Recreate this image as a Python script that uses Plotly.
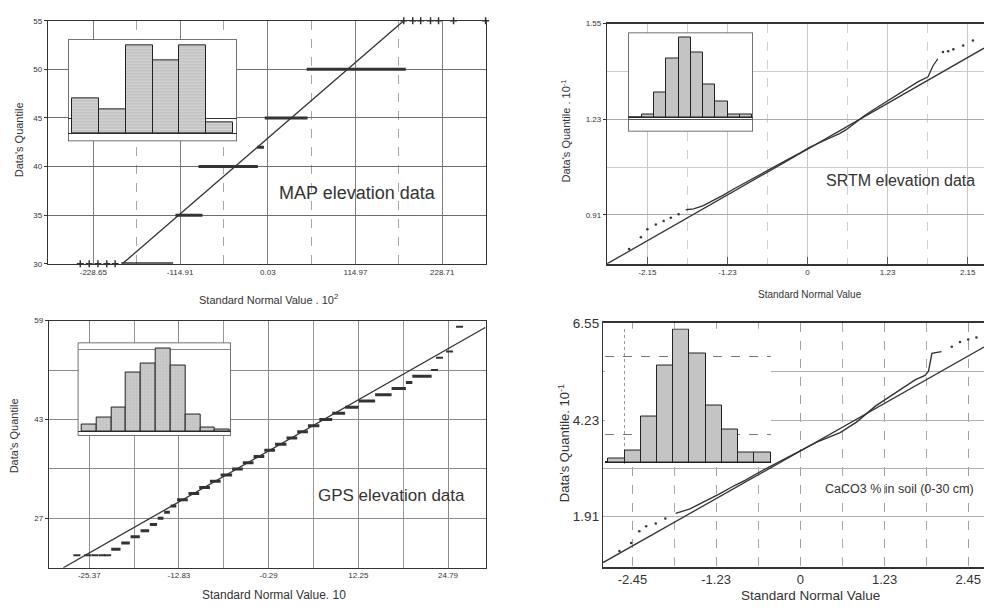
import plotly.graph_objects as go

W, H = 984, 608

# ---------------- MAP elevation data ----------------
MAP_LEVELS = [30, 35, 40, 42, 45, 50]
MAP_BAND_START = [-192.0, -121.0, -90.8, -14.0, -4.0, 51.0]
MAP_BAND_END = [-124.0, -85.6, -13.0, -5.0, 52.2, 180.9]
MAP_SPARSE_X = [-245.7, -234.0, -222.5, -211.0, -200.0, 178.2, 190.0, 200.4, 213.3, 223.8, 243.5, 285.5]
MAP_SPARSE_Y = [30, 30, 30, 30, 30, 55, 55, 55, 55, 55, 55, 55]
MAP_REF_X = [-190.6, 178.2]
MAP_REF_Y = [30, 55]
MAP_HIST = [36, 25, 90, 75, 90, 11]
MAP_XTICKS = [-228.65, -114.91, 0.03, 114.97, 228.71]
MAP_XTICK_TEXT = ["-228.65", "-114.91", "0.03", "114.97", "228.71"]
MAP_YTICKS = [30, 35, 40, 45, 50, 55]

# ---------------- SRTM elevation data ----------------
SRTM_LO_X = [-2.74, -2.56, -2.46, -2.33, -2.21, -2.10, -1.98]
SRTM_LO_Y = [0.796, 0.835, 0.862, 0.878, 0.889, 0.900, 0.912]
SRTM_MID_X = [-1.87, -1.75, -1.61, -1.45, -1.30, -1.12, -0.94, -0.80, -0.64, -0.45, -0.28, -0.12,
              0.03, 0.25, 0.49, 0.60, 0.70, 0.85, 1.00, 1.13, 1.26, 1.42, 1.57, 1.70, 1.85, 1.93, 2.00]
SRTM_MID_Y = [0.927, 0.930, 0.940, 0.957, 0.975, 0.998, 1.020, 1.036, 1.056, 1.078, 1.098, 1.117,
              1.136, 1.158, 1.182, 1.196, 1.214, 1.238, 1.260, 1.278, 1.296, 1.318, 1.340, 1.356, 1.372, 1.410, 1.432]
SRTM_HI_X = [2.08, 2.16, 2.24, 2.39, 2.54]
SRTM_HI_Y = [1.455, 1.458, 1.464, 1.477, 1.494]
SRTM_REF_X = [-3.08, 2.71]
SRTM_REF_Y = [0.746, 1.468]
SRTM_HIST = [0, 3.5, 25, 60, 82, 66, 34, 16, 3, 3]
SRTM_XTICKS = [-2.46, -1.23, 0, 1.23, 2.46]
SRTM_XTICK_TEXT = ["-2.15", "-1.23", "0", "1.23", "2.15"]
SRTM_YTICKS = [0.91, 1.23, 1.55]

# ---------------- GPS elevation data ----------------
GPS_LEVELS = [22, 23, 24, 25, 26, 27, 28, 29, 30, 31, 32, 33, 34, 35, 36, 37, 38, 39, 40,
              41, 42, 43, 44, 45, 46, 47, 48, 49, 50]
GPS_STEP_START = [-22.3, -20.9, -19.6, -18.2, -16.9, -15.8, -14.9, -14.0, -13.1, -11.5, -10.0, -8.5,
                  -7.0, -5.4, -3.9, -2.4, -0.9, 0.6, 2.2, 3.7, 5.2, 6.8, 8.6, 10.4, 12.3, 14.6,
                  16.9, 18.9, 19.8]
GPS_STEP_END = [-21.0, -19.7, -18.3, -17.0, -15.9, -15.0, -14.1, -13.2, -11.6, -10.0, -8.5, -7.0,
                -5.4, -3.9, -2.4, -0.9, 0.6, 2.2, 3.7, 5.2, 6.8, 8.6, 10.4, 12.3, 14.6, 16.9,
                18.9, 19.8, 22.5]
GPS_PT_X = [-27.1, -25.6, -24.6, -23.6, -22.8, 22.9, 23.6, 25.0, 26.4]
GPS_PT_Y = [21, 21, 21, 21, 21, 51, 53, 54, 58]
GPS_REF_X = [-29.0, 30.0]
GPS_REF_Y = [19.0, 57.9]
GPS_HIST = [7.7, 14, 25, 60, 70, 85, 67.7, 17.7, 4, 2.3]
GPS_XTICKS = [-25.37, -12.83, -0.29, 12.25, 24.79]
GPS_XTICK_TEXT = ["-25.37", "-12.83", "-0.29", "12.25", "24.79"]
GPS_YTICKS = [27, 43, 59]

# ---------------- CaCO3 % in soil ----------------
CAC_LO_X = [-2.64, -2.47, -2.35, -2.25, -2.11, -1.97]
CAC_LO_Y = [1.09, 1.28, 1.56, 1.68, 1.75, 1.87]
CAC_MID_X = [-1.82, -1.73, -1.61, -1.49, -1.35, -1.20, -0.96, -0.80, -0.62, -0.34, -0.05, 0.24,
             0.58, 0.82, 1.10, 1.39, 1.68, 1.82, 1.87, 1.92, 2.06]
CAC_MID_Y = [1.99, 2.03, 2.10, 2.20, 2.31, 2.44, 2.66, 2.79, 2.96, 3.20, 3.46, 3.70,
             3.93, 4.18, 4.57, 4.89, 5.20, 5.30, 5.40, 5.83, 5.87]
CAC_HI_X = [2.21, 2.33, 2.45, 2.57]
CAC_HI_Y = [5.99, 6.10, 6.16, 6.21]
CAC_REF_X = [-2.88, 2.68]
CAC_REF_Y = [0.81, 5.98]
CAC_HIST = [3.3, 11.7, 47, 99, 135, 111, 58, 33, 10, 10]
CAC_XTICKS = [-2.45, -1.23, 0, 1.23, 2.45]
CAC_XTICK_TEXT = ["-2.45", "-1.23", "0", "1.23", "2.45"]
CAC_YTICKS = [1.91, 4.23, 6.55]

INK = "#333333"
FONT = "Liberation Sans Narrow, Arial Narrow, Liberation Sans, Arial, sans-serif"
FONT2 = "Liberation Sans, Arial, sans-serif"


def dx(a, b):
    return [a / W, b / W]


def dy(top, bottom):
    return [1 - bottom / H, 1 - top / H]


fig = go.Figure()


def segs(levels, starts, ends):
    xs, ys = [], []
    for lv, s, e in zip(levels, starts, ends):
        xs += [s, e, None]
        ys += [lv, lv, None]
    return xs, ys


# MAP panel (x2/y2)
bx, by = segs(MAP_LEVELS, MAP_BAND_START, MAP_BAND_END)
fig.add_trace(go.Scatter(x=bx, y=by, mode="lines", line=dict(color=INK, width=3),
                         xaxis="x2", yaxis="y2", showlegend=False, cliponaxis=False))
fig.add_trace(go.Scatter(x=MAP_SPARSE_X, y=MAP_SPARSE_Y, mode="markers",
                         marker=dict(symbol="cross-thin", size=5, line=dict(color=INK, width=1.5)),
                         xaxis="x2", yaxis="y2", showlegend=False, cliponaxis=False))
fig.add_trace(go.Scatter(x=MAP_REF_X, y=MAP_REF_Y, mode="lines", line=dict(color=INK, width=1.3),
                         xaxis="x2", yaxis="y2", showlegend=False))

# SRTM panel (x3/y3)
fig.add_trace(go.Scatter(x=SRTM_REF_X, y=SRTM_REF_Y, mode="lines", line=dict(color=INK, width=1.3),
                         xaxis="x3", yaxis="y3", showlegend=False))
fig.add_trace(go.Scatter(x=SRTM_MID_X, y=SRTM_MID_Y, mode="lines", line=dict(color=INK, width=1.3),
                         xaxis="x3", yaxis="y3", showlegend=False))
fig.add_trace(go.Scatter(x=SRTM_LO_X + SRTM_HI_X, y=SRTM_LO_Y + SRTM_HI_Y, mode="markers",
                         marker=dict(size=2.5, color=INK), xaxis="x3", yaxis="y3", showlegend=False))

# GPS panel (x4/y4)
gx, gy = segs(GPS_LEVELS, GPS_STEP_START, GPS_STEP_END)
fig.add_trace(go.Scatter(x=GPS_REF_X, y=GPS_REF_Y, mode="lines", line=dict(color=INK, width=1.3),
                         xaxis="x4", yaxis="y4", showlegend=False))
fig.add_trace(go.Scatter(x=gx, y=gy, mode="lines", line=dict(color=INK, width=3),
                         xaxis="x4", yaxis="y4", showlegend=False))
fig.add_trace(go.Scatter(x=GPS_PT_X, y=GPS_PT_Y, mode="markers",
                         marker=dict(symbol="line-ew", size=5, line=dict(color=INK, width=2)),
                         xaxis="x4", yaxis="y4", showlegend=False))

# CaCO3 panel (x5/y5)
fig.add_trace(go.Scatter(x=CAC_REF_X, y=CAC_REF_Y, mode="lines", line=dict(color=INK, width=1.3),
                         xaxis="x5", yaxis="y5", showlegend=False))
fig.add_trace(go.Scatter(x=CAC_MID_X, y=CAC_MID_Y, mode="lines", line=dict(color=INK, width=1.4),
                         xaxis="x5", yaxis="y5", showlegend=False))
fig.add_trace(go.Scatter(x=CAC_LO_X + CAC_HI_X, y=CAC_LO_Y + CAC_HI_Y, mode="markers",
                         marker=dict(size=2.5, color=INK), xaxis="x5", yaxis="y5", showlegend=False))

# inset histograms
BAR_FILL = "#c4c4c4"


def add_hist(vals, xa, ya, pattern=None):
    marker = dict(color=BAR_FILL, line=dict(color="#222222", width=1))
    if pattern:
        marker["pattern"] = pattern
    fig.add_trace(go.Bar(x=[i + 0.5 for i in range(len(vals))], y=vals, width=1,
                         marker=marker, xaxis=xa, yaxis=ya, showlegend=False, hoverinfo="skip"))


add_hist(MAP_HIST, "x6", "y6", dict(shape="-", fgcolor="#9a9a9a", bgcolor="#d0d0d0", size=3, solidity=0.25))
add_hist(SRTM_HIST, "x7", "y7")
add_hist(GPS_HIST, "x8", "y8", dict(shape=".", fgcolor="#a8a8a8", bgcolor="#cccccc", size=3, solidity=0.3))
add_hist(CAC_HIST, "x9", "y9")

# inset ranges
MAP_IN_XR, MAP_IN_YR = [-0.149, 6.149], [-8, 96]
SRTM_IN_XR, SRTM_IN_YR = [-0.114, 10.05], [-14.3, 86.7]
GPS_IN_XR, GPS_IN_YR = [-0.27, 10.07], [-4, 91]
CAC_IN_XR, CAC_IN_YR = [-0.203, 10.02], [-1.7, 136.3]

shapes = []
for xa, ya, xr, yr, framed in [("x6", "y6", MAP_IN_XR, MAP_IN_YR, True),
                               ("x7", "y7", SRTM_IN_XR, SRTM_IN_YR, True),
                               ("x8", "y8", GPS_IN_XR, GPS_IN_YR, True),
                               ("x9", "y9", CAC_IN_XR, CAC_IN_YR, False)]:
    shapes.append(dict(type="rect", xref=xa, yref=ya, x0=xr[0], x1=xr[1], y0=yr[0], y1=yr[1],
                       fillcolor="white", layer="below",
                       line=dict(color="#444444" if framed else "rgba(0,0,0,0)", width=1.5)))


def base_axis(domain, rng, **kw):
    d = dict(domain=domain, range=rng, zeroline=False, showline=True, linecolor=INK,
             linewidth=1.3, mirror=True, fixedrange=True, ticks="", showgrid=True)
    d.update(kw)
    return d


def inset_axis(domain, rng, **kw):
    d = dict(domain=domain, range=rng, showgrid=False, zeroline=False, showline=False,
             showticklabels=False, ticks="", fixedrange=True)
    d.update(kw)
    return d


layout = dict(
    width=W, height=H, margin=dict(l=0, r=0, t=0, b=0),
    paper_bgcolor="white", plot_bgcolor="rgba(0,0,0,0)", showlegend=False,
    font=dict(family=FONT, color=INK),
    bargap=0,
    # MAP
    xaxis2=base_axis(dx(48, 486), [-288, 286], anchor="y2", tickvals=MAP_XTICKS, ticktext=MAP_XTICK_TEXT,
                     tickfont=dict(size=8), gridcolor="#7d7d7d", gridwidth=1,
                     minor=dict(tickvals=[-171.8, -57.4, 57.5, 171.8], showgrid=True,
                                gridcolor="#a6a6a6", griddash="dash")),
    yaxis2=base_axis(dy(14, 262), [30, 55], anchor="x2", tickvals=MAP_YTICKS, tickfont=dict(size=8),
                     gridcolor="#6e6e6e", ticks="outside", ticklen=3, tickcolor=INK),
    # SRTM
    xaxis3=base_axis(dx(607, 984), [-3.08, 2.71], anchor="y3", tickvals=SRTM_XTICKS, ticktext=SRTM_XTICK_TEXT,
                     tickfont=dict(size=8), gridcolor="#c8c8c8", linewidth=2,
                     ticks="inside", ticklen=7, tickcolor="#555",
                     minor=dict(tickvals=[-1.845, -0.615, 0.615, 1.845], showgrid=True,
                                gridcolor="#cfcfcf", griddash="dash")),
    yaxis3=base_axis(dy(17, 262), [0.746, 1.55], anchor="x3", tickvals=SRTM_YTICKS, tickfont=dict(size=8),
                     gridcolor="#a8a8a8", mirror=False, ticks="outside", ticklen=3, tickcolor=INK,
                     minor=dict(tickvals=[1.07, 1.39], showgrid=True, gridcolor="#cccccc")),
    # GPS
    xaxis4=base_axis(dx(49, 486), [-31.0, 30.1], anchor="y4", tickvals=GPS_XTICKS, ticktext=GPS_XTICK_TEXT,
                     tickfont=dict(size=8), gridcolor="#8a8a8a",
                     minor=dict(tickvals=[-19.1, -6.56, 5.98, 18.52], showgrid=True, gridcolor="#9a9a9a")),
    yaxis4=base_axis(dy(320, 572), [19, 59], anchor="x4", tickvals=GPS_YTICKS, tickfont=dict(size=8),
                     gridcolor="#8a8a8a", ticks="outside", ticklen=3, tickcolor=INK,
                     minor=dict(tickvals=[35, 51], showgrid=True, gridcolor="#8a8a8a")),
    # CaCO3
    xaxis5=base_axis(dx(603, 984), [-2.88, 2.68], anchor="y5", tickvals=CAC_XTICKS, ticktext=CAC_XTICK_TEXT,
                     tickfont=dict(size=13, family=FONT2), gridcolor="#a0a0a0", griddash="dash", linewidth=2,
                     ticklabelstandoff=-1,
                     minor=dict(tickvals=[-1.84, -0.615, 0.615, 1.84], showgrid=True,
                                gridcolor="#a8a8a8", griddash="dash")),
    yaxis5=base_axis(dy(322.7, 571.7), [0.695, 6.55], anchor="x5", tickvals=CAC_YTICKS,
                     tickfont=dict(size=13.5, family=FONT2), gridcolor="#b0b0b0", mirror=False,
                     minor=dict(tickvals=[3.07, 5.39], showgrid=True, gridcolor="#b0b0b0")),
    # insets
    xaxis6=inset_axis(dx(68, 237), MAP_IN_XR, anchor="y6"),
    yaxis6=inset_axis(dy(33, 137), MAP_IN_YR, anchor="x6", zeroline=True, zerolinecolor="#333",
                      zerolinewidth=1.2, showgrid=True, tickvals=[15], gridcolor="#333"),
    xaxis7=inset_axis(dx(628, 753), SRTM_IN_XR, anchor="y7"),
    yaxis7=inset_axis(dy(26, 127), SRTM_IN_YR, anchor="x7", zeroline=True, zerolinecolor="#333",
                      zerolinewidth=1.2, showgrid=True, tickvals=[-2.3], gridcolor="#555"),
    xaxis8=inset_axis(dx(77.7, 231), GPS_IN_XR, anchor="y8"),
    yaxis8=inset_axis(dy(342.3, 437.3), GPS_IN_YR, anchor="x8", zeroline=True, zerolinecolor="#333",
                      zerolinewidth=1.2, showgrid=True, tickvals=[84], gridcolor="#888"),
    xaxis9=inset_axis(dx(605, 771), CAC_IN_XR, anchor="y9", showgrid=True, tickvals=[1.0, 10.0],
                      gridcolor="#999", griddash="dot"),
    yaxis9=inset_axis(dy(328, 466), CAC_IN_YR, anchor="x9", zeroline=True, zerolinecolor="#222",
                      zerolinewidth=1.6, showgrid=True, tickvals=[28.3, 107.6], gridcolor="#777",
                      griddash="dash"),
    shapes=shapes,
)


def ann(text, x, y, size, angle=0, xanchor="center", family=FONT, color=INK):
    return dict(text=text, x=x / W, y=1 - y / H, xref="paper", yref="paper", showarrow=False,
                textangle=angle, xanchor=xanchor, yanchor="middle",
                font=dict(size=size, family=family, color=color))


layout["annotations"] = [
    ann("MAP elevation data", 357, 190, 18, family=FONT2),
    ann("SRTM elevation data", 900, 177, 16),
    ann("GPS elevation data", 391, 498, 17, family=FONT2),
    ann("CaCO3 % in soil (0-30 cm)", 823, 492, 12.5, xanchor="left", family=FONT2),
    ann("Standard Normal Value . 10<sup>2</sup>", 268, 298, 11),
    ann("Standard Normal Value", 810, 293, 10),
    ann("Standard Normal Value. 10", 274, 600, 12),
    ann("Standard Normal Value", 810, 600, 13.5, family=FONT2),
    ann("Data's Quantile", 19, 136, 11, angle=-90),
    ann("Data's Quantile", 14, 438, 11, angle=-90),
    ann("Data's Quantile . 10<sup>-1</sup>", 566, 127, 11, angle=-90),
    ann("Data's Quantile. 10<sup>-1</sup>", 564, 445, 13, angle=-90, family=FONT2),
]

fig.update_layout(**layout)
fig.write_html("out.html", config={"displayModeBar": False},
               post_script="document.body.style.margin='0';document.body.style.overflow='hidden';")
